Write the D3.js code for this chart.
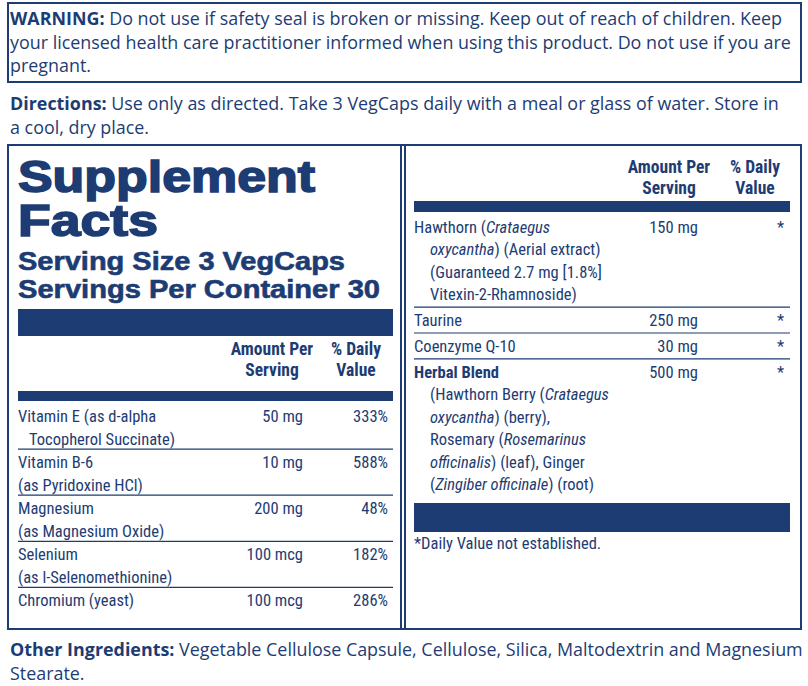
<!DOCTYPE html>
<html><head><meta charset="utf-8">
<script src="https://cdn.jsdelivr.net/npm/d3@7"></script>
<style>body{margin:0;background:#fff}</style>
</head><body><div id="label"></div>
<script>
// label data
const warningLines = ["WARNING: Do not use if safety seal is broken or missing. Keep out of reach of children. Keep",
  "your licensed health care practitioner informed when using this product. Do not use if you are",
  "pregnant."];
const directionLines = ["Directions: Use only as directed. Take 3 VegCaps daily with a meal or glass of water. Store in",
  "a cool, dry place."];
const otherLines = ["Other Ingredients: Vegetable Cellulose Capsule, Cellulose, Silica, Maltodextrin and Magnesium",
  "Stearate."];

const leftNames = [["Vitamin E (as d-alpha", "   Tocopherol Succinate)"], ["Vitamin B-6", "(as Pyridoxine HCl)"],
  ["Magnesium", "(as Magnesium Oxide)"], ["Selenium", "(as l-Selenomethionine)"], ["Chromium (yeast)"]];
const leftAmounts = ["50 mg", "10 mg", "200 mg", "100 mcg", "100 mcg"];
const leftDV = ["333%", "588%", "48%", "182%", "286%"];

const rightNames = [["Hawthorn (_Crataegus_", "_oxycantha_) (Aerial extract)", "(Guaranteed 2.7 mg [1.8%]", "Vitexin-2-Rhamnoside)"],
  ["Taurine"], ["Coenzyme Q-10"],
  ["*Herbal Blend", "(Hawthorn Berry (_Crataegus_", "_oxycantha_) (berry),", "Rosemary (_Rosemarinus_", "_officinalis_) (leaf), Ginger", "(_Zingiber officinale_) (root)"]];
const rightAmounts = ["150 mg", "250 mg", "30 mg", "500 mg"];
const rightDV = ["*", "*", "*", "*"];

const navy = "#1d3c73";
const body = "'Liberation Sans Narrow','Roboto Condensed','Liberation Sans',sans-serif";
const prose = "'Open Sans','Noto Sans',sans-serif";
const heavy = "'Liberation Sans',Arial,sans-serif";

const svg = d3.select("#label").append("svg").attr("width", 808).attr("height", 686);
svg.attr("fill", navy);

function proseText(lines, y0) {
  lines.forEach((l, i) => {
    const t = svg.append("text").attr("x", 10).attr("y", y0 + i * 23.5)
      .attr("font-family", prose).attr("font-size", 17.9);
    if (i === 0) {
      const k = l.indexOf(":") + 1;
      t.append("tspan").attr("font-weight", 700).text(l.slice(0, k));
      t.append("tspan").text(l.slice(k));
    } else t.text(l);
  });
}

svg.append("rect").attr("x", 8).attr("y", 3).attr("width", 793).attr("height", 79)
  .attr("fill", "none").attr("stroke", navy).attr("stroke-width", 2);
proseText(warningLines, 25);
proseText(directionLines, 110);
proseText(otherLines, 656);

// panels
svg.append("rect").attr("x", 8).attr("y", 145).attr("width", 793).attr("height", 484)
  .attr("fill", "none").attr("stroke", navy).attr("stroke-width", 2);
svg.append("line").attr("x1", 401).attr("x2", 401).attr("y1", 145).attr("y2", 629).attr("stroke", navy).attr("stroke-width", 2);
svg.append("line").attr("x1", 405).attr("x2", 405).attr("y1", 145).attr("y2", 629).attr("stroke", navy).attr("stroke-width", 2);

// title
[["Supplement", 192, 297], ["Facts", 236, 140]].forEach(d =>
  svg.append("text").attr("x", 18).attr("y", d[1]).attr("font-family", heavy)
    .attr("font-weight", 900).attr("font-size", 44).attr("stroke", navy).attr("stroke-width", 1.6)
    .attr("textLength", d[2]).attr("lengthAdjust", "spacingAndGlyphs").text(d[0]));
[["Serving Size 3 VegCaps", 270, 327], ["Servings Per Container 30", 298, 362]].forEach(d =>
  svg.append("text").attr("x", 18).attr("y", d[1]).attr("font-family", heavy)
    .attr("font-weight", 700).attr("font-size", 25).attr("stroke", navy).attr("stroke-width", 0.6)
    .attr("textLength", d[2]).attr("lengthAdjust", "spacingAndGlyphs").text(d[0]));

function headers(xAmt, xDV, y) {
  [["Amount Per", "Serving", xAmt], ["% Daily", "Value", xDV]].forEach(h => {
    [0, 1].forEach(i => svg.append("text").attr("x", h[2]).attr("y", y + i * 21)
      .attr("text-anchor", "middle").attr("font-family", body).attr("font-weight", 700)
      .attr("font-size", 17.5).text(h[i]));
  });
}

function drawLine(t, line, x) {
  let bold = false;
  if (line.startsWith("*")) { bold = true; line = line.slice(1); }
  const parts = line.split("_");
  const txt = svg.append("text").attr("x", x).attr("y", t).attr("font-family", body)
    .attr("font-size", 16.5).style("white-space", "pre");
  parts.forEach((p, j) => { if (p) txt.append("tspan").attr("font-style", j % 2 ? "italic" : "normal")
    .attr("font-weight", bold ? 700 : 400).text(p); });
}

function table(names, amounts, dvs, cfg) {
  let idx = 0;
  const starts = names.map(n => { const s = idx; idx += n.length; return s; });
  const y = d3.scaleLinear().domain([0, 1]).range([cfg.top, cfg.top + cfg.lh]);
  names.forEach((n, i) => {
    const yTop = y(starts[i]) + i * cfg.gap;
    if (i > 0) svg.append("line").attr("x1", cfg.x0).attr("x2", cfg.x1).attr("y1", yTop - 2).attr("y2", yTop - 2)
      .attr("stroke", navy).attr("stroke-width", 1.2);
    n.forEach((l, k) => drawLine(yTop + 17 + k * cfg.lh, l, cfg.x0 + (k > 0 && cfg.indent ? cfg.indent : 0)));
    svg.append("text").attr("x", cfg.xAmt).attr("y", yTop + 17).attr("text-anchor", "end")
      .attr("font-family", body).attr("font-size", 16.5).text(amounts[i]);
    svg.append("text").attr("x", cfg.xDV).attr("y", yTop + 17).attr("text-anchor", "end")
      .attr("font-family", body).attr("font-size", 16.5).text(dvs[i]);
  });
}

// left table
svg.append("rect").attr("x", 18).attr("y", 309).attr("width", 375).attr("height", 27);
headers(272, 356, 355);
svg.append("rect").attr("x", 18).attr("y", 391).attr("width", 375).attr("height", 10);
table(leftNames, leftAmounts, leftDV, {x0: 18, x1: 393, top: 405, lh: 22.8, gap: 0.5, xAmt: 303, xDV: 388, indent: 0});

// right table
headers(669, 755, 173);
svg.append("rect").attr("x", 414).attr("y", 201).attr("width", 376).attr("height", 11);
table(rightNames, rightAmounts, rightDV, {x0: 414, x1: 790, top: 216, lh: 22.4, gap: 3.5, xAmt: 698, xDV: 784, indent: 16});
svg.append("rect").attr("x", 414).attr("y", 503).attr("width", 376).attr("height", 29);
svg.append("text").attr("x", 414).attr("y", 549).attr("font-family", body).attr("font-size", 16.5)
  .text("*Daily Value not established.");
</script></body></html>
